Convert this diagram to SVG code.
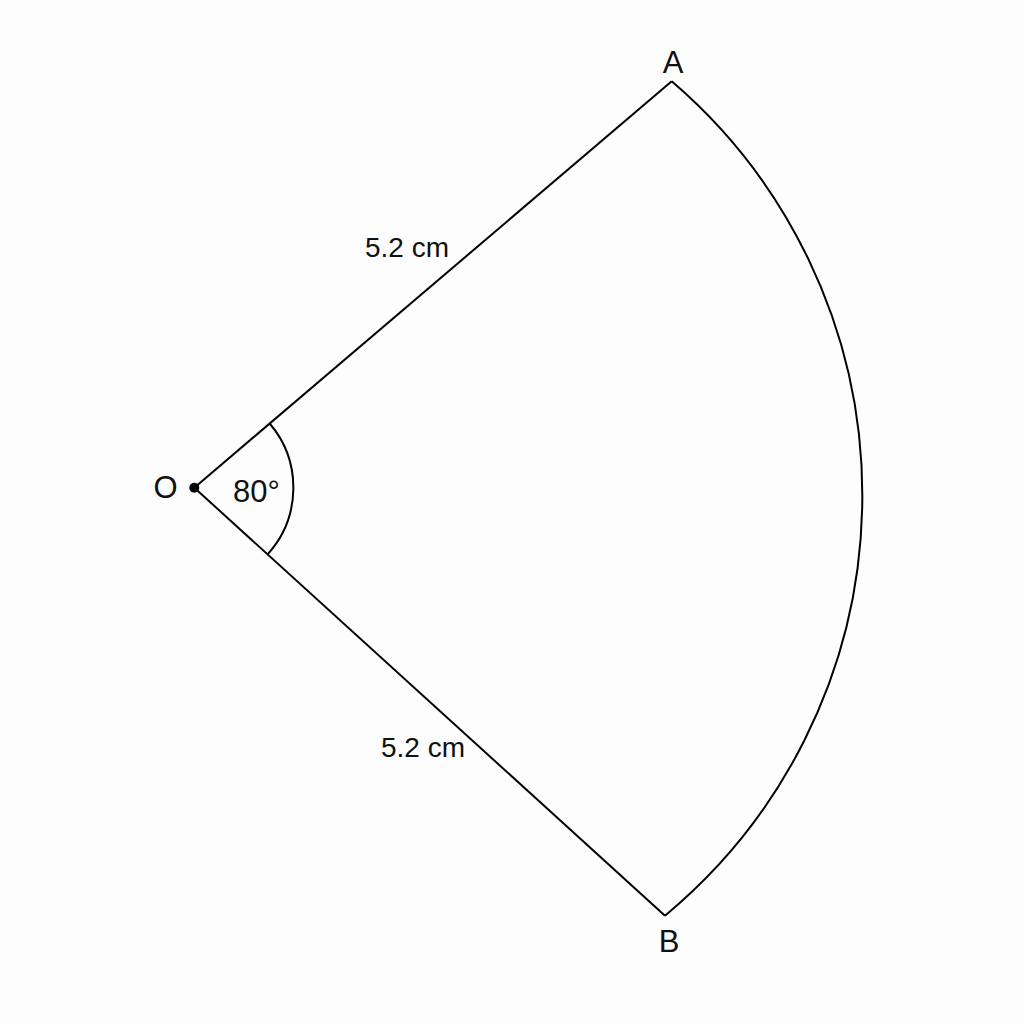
<svg xmlns="http://www.w3.org/2000/svg" width="1024" height="1024" viewBox="0 0 1024 1024">
<style>
.ln{fill:none;stroke:#000;stroke-width:2;stroke-linejoin:miter}
.lbl{font-family:"Liberation Sans",Arial,sans-serif;fill:#111}
.pt{font-size:31px;text-anchor:middle}
.len{font-size:28px;text-anchor:middle}
</style>
<rect width="1024" height="1024" fill="#fdfdfd"/>
<g id="connectors">
<path id="OA" class="ln" d="M194.3 487.7 L671.7 81.3"/>
<path id="OB" class="ln" d="M194.3 487.7 L665 915.7"/>
<path id="arcAB" class="ln" d="M671.7 81.3 A545.7 545.7 0 0 1 665 915.7"/>
<path id="angleArc" class="ln" d="M269.7 423.5 A99 99 0 0 1 267.6 554.3"/>
</g>
<g id="O">
<circle cx="194.3" cy="487.7" r="5" fill="#000"/>
<text class="lbl pt" x="165.5" y="498">O</text>
</g>
<g id="A"><text class="lbl pt" x="673" y="73">A</text></g>
<g id="B"><text class="lbl pt" x="669" y="952">B</text></g>
<g id="labels">
<text class="lbl" x="233" y="501.5" font-size="31">80°</text>
<text class="lbl len" x="407" y="257.3">5.2 cm</text>
<text class="lbl len" x="423" y="756.7">5.2 cm</text>
</g>
</svg>
